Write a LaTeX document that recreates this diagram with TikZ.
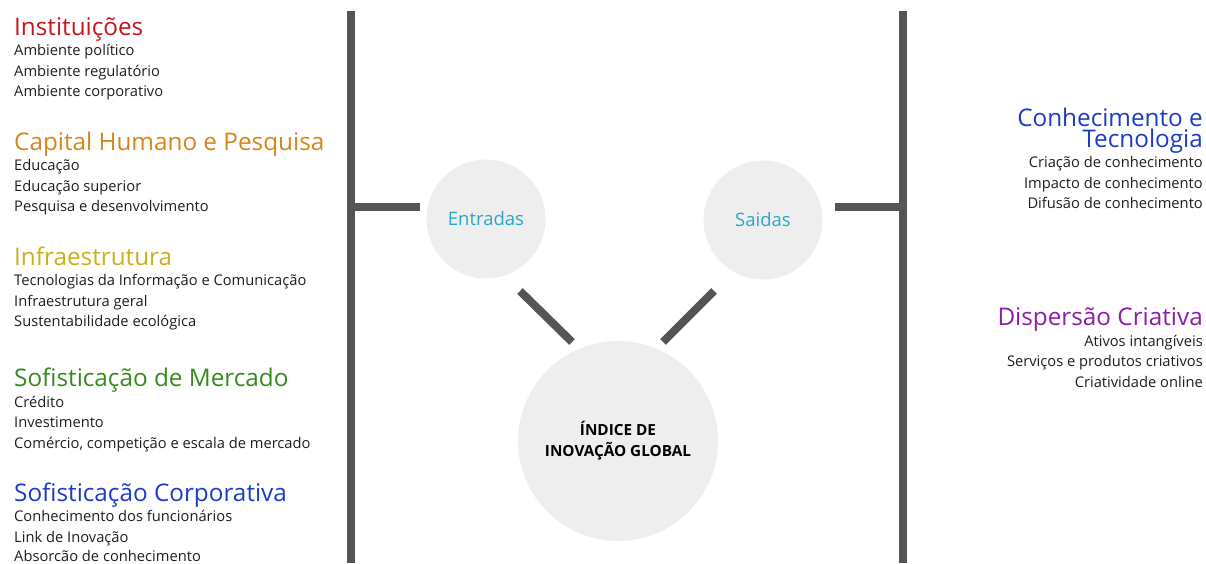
\documentclass[tikz,border=0pt]{standalone}
\usepackage{fontspec}
\setmainfont{Open Sans}
\definecolor{barcol}{HTML}{555555}
\definecolor{disccol}{HTML}{EEEEEE}
\definecolor{labcol}{HTML}{2AA6C6}
\definecolor{inscol}{HTML}{C8141E}
\definecolor{capcol}{HTML}{D6851A}
\definecolor{infcol}{HTML}{C9B01C}
\definecolor{merccol}{HTML}{358A1E}
\definecolor{corpcol}{HTML}{1C3CC6}
\definecolor{dispcol}{HTML}{8E1CA8}
\definecolor{itemcol}{HTML}{1E1E1E}
\begin{document}
\begin{tikzpicture}[x=1pt,y=-1pt,
  bar/.style={draw=barcol,line width=8pt},
  disc/.style={circle,fill=disccol,inner sep=0pt},
  head/.style={anchor=base west,inner sep=0pt,font=\fontsize{24.3}{27}\selectfont},
  item/.style={anchor=base west,inner sep=0pt,text=itemcol,font=\fontsize{14.7}{17}\selectfont},
  rhead/.style={head,anchor=base east},
  ritem/.style={item,anchor=base east}]
  \useasboundingbox (0,0) rectangle (1206,563);
  \node (ent) at (486,219) [disc,minimum size=119pt,text=labcol,font=\fontsize{18.5}{22}\selectfont] {Entradas};
  \node (sai) at (763,220) [disc,minimum size=119pt,text=labcol,font=\fontsize{18.5}{22}\selectfont] {Saidas};
  \node (gii) at (618,441) [disc,minimum size=200pt,align=center,font=\bfseries\fontsize{15.3}{21}\selectfont] {ÍNDICE DE\\INOVAÇÃO GLOBAL};
  \coordinate (lt) at (351,11);
  \coordinate (lb) at (351,563);
  \coordinate (lj) at (351,207);
  \coordinate (le) at (420,207);
  \coordinate (rt) at (903,11);
  \coordinate (rb) at (903,563);
  \coordinate (rj) at (903,207);
  \coordinate (re) at (835,207);
  \coordinate (ld1) at (520,291);
  \coordinate (ld2) at (572,342);
  \coordinate (rd1) at (714,291);
  \coordinate (rd2) at (663,342);
  \draw [bar] (lt) -- (lb);
  \draw [bar] (lj) -- (le);
  \draw [bar] (rt) -- (rb);
  \draw [bar] (rj) -- (re);
  \draw [bar] (ld1) -- (ld2);
  \draw [bar] (rd1) -- (rd2);
  \node (ins) at (14,35) [head,text=inscol] {Instituições};
  \node (ins1) at (14,55.5) [item] {Ambiente político};
  \node (ins2) at (14,76) [item] {Ambiente regulatório};
  \node (ins3) at (14,96.5) [item] {Ambiente corporativo};
  \node (cap) at (14,150) [head,text=capcol] {Capital Humano e Pesquisa};
  \node (cap1) at (14,170.5) [item] {Educação};
  \node (cap2) at (14,191) [item] {Educação superior};
  \node (cap3) at (14,211.5) [item] {Pesquisa e desenvolvimento};
  \node (inf) at (14,265) [head,text=infcol] {Infraestrutura};
  \node (inf1) at (14,285.5) [item] {Tecnologias da Informação e Comunicação};
  \node (inf2) at (14,306) [item] {Infraestrutura geral};
  \node (inf3) at (14,326.5) [item] {Sustentabilidade ecológica};
  \node (merc) at (14,386.5) [head,text=merccol] {Sofisticação de Mercado};
  \node (merc1) at (14,407) [item] {Crédito};
  \node (merc2) at (14,427.5) [item] {Investimento};
  \node (merc3) at (14,448) [item] {Comércio, competição e escala de mercado};
  \node (corp) at (14,501) [head,text=corpcol] {Sofisticação Corporativa};
  \node (corp1) at (14,521.5) [item] {Conhecimento dos funcionários};
  \node (corp2) at (14,542) [item] {Link de Inovação};
  \node (corp3) at (14,561.5) [item] {Absorcão de conhecimento};
  \node (con) at (1203,130.2) [head,anchor=east,align=right,text=corpcol,font=\fontsize{24.3}{21}\selectfont] {Conhecimento e\\Tecnologia};
  \node (con1) at (1203,167.5) [ritem] {Criação de conhecimento};
  \node (con2) at (1203,188) [ritem] {Impacto de conhecimento};
  \node (con3) at (1203,208.5) [ritem] {Difusão de conhecimento};
  \node (disp) at (1203,325.5) [rhead,text=dispcol] {Dispersão Criativa};
  \node (disp1) at (1203,346) [ritem] {Ativos intangíveis};
  \node (disp2) at (1203,366.5) [ritem] {Serviços e produtos criativos};
  \node (disp3) at (1203,387) [ritem] {Criatividade online};
\end{tikzpicture}
\end{document}
